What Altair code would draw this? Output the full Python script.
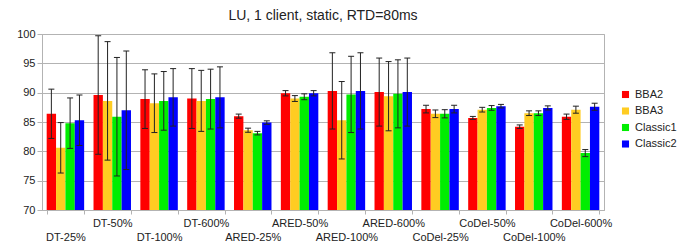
import altair as alt
import pandas as pd

categories = ["DT-25%", "DT-50%", "DT-100%", "DT-600%",
              "ARED-25%", "ARED-50%", "ARED-100%", "ARED-600%",
              "CoDel-25%", "CoDel-50%", "CoDel-100%", "CoDel-600%"]
series = ["BBA2", "BBA3", "Classic1", "Classic2"]
colors = ["#ff0000", "#ffcc22", "#00ee00", "#0000ff"]

# mean values per series (one per category)
bba2 = [86.4, 89.6, 88.9, 89.0, 86.0, 89.9, 90.3, 90.1, 87.2, 85.7, 84.2, 85.9]
bba3 = [80.6, 88.6, 88.2, 88.6, 83.6, 89.0, 85.3, 89.4, 86.4, 87.1, 86.5, 87.1]
classic1 = [84.8, 85.9, 88.6, 88.9, 83.1, 89.3, 89.7, 89.8, 86.4, 87.4, 86.5, 79.7]
classic2 = [85.3, 87.0, 89.2, 89.2, 84.9, 89.9, 90.3, 90.1, 87.2, 87.7, 87.4, 87.6]

# error half-widths
err_bba2 = [4.2, 10.1, 5.0, 5.1, 0.35, 0.45, 6.5, 5.8, 0.65, 0.25, 0.3, 0.45]
err_bba3 = [4.3, 10.1, 5.0, 5.2, 0.35, 0.5, 6.6, 5.9, 0.65, 0.4, 0.4, 0.6]
err_classic1 = [4.3, 10.1, 5.0, 5.1, 0.3, 0.5, 6.5, 5.8, 0.7, 0.4, 0.4, 0.6]
err_classic2 = [4.3, 10.1, 4.9, 5.2, 0.3, 0.45, 6.5, 5.8, 0.65, 0.3, 0.35, 0.6]

y_ticks = [70, 75, 80, 85, 90, 95, 100]

means = [bba2, bba3, classic1, classic2]
errs = [err_bba2, err_bba3, err_classic1, err_classic2]

rows = []
for s, m, e in zip(series, means, errs):
    for c, v, d in zip(categories, m, e):
        rows.append({"category": c, "series": s, "value": v,
                     "lo": v - d, "hi": v + d})
df = pd.DataFrame(rows)

upper = [c for i, c in enumerate(categories) if i % 2 == 1]
upper_js = "[" + ",".join("'" + c + "'" for c in upper) + "]"

font = "Liberation Sans"
grid = "#b3b3b3"

x_axis = alt.Axis(tickBand="extent", labelAngle=0, grid=False,
                  domainColor=grid, tickColor=grid, tickSize=4,
                  labelFont=font, labelFontSize=11, labelColor="#222",
                  labelBaseline="top", labelAlign="center",
                  labelPadding={"condition": {"test": "indexof(" + upper_js + ", datum.value) >= 0",
                                              "value": 3},
                                "value": 17},
                  labelOverlap=False, labelBound=False)
x_scale = alt.Scale(paddingInner=0.2, paddingOuter=0.1)
x = alt.X("category:N", sort=categories, title=None, scale=x_scale, axis=x_axis)
xo = alt.XOffset("series:N", sort=series, scale=alt.Scale(paddingInner=0))

y_scale = alt.Scale(domain=[70, 100], nice=False, zero=False)
y_axis = alt.Axis(values=y_ticks, gridColor=grid,
                  domainColor=grid, tickColor=grid, tickSize=5,
                  labelFont=font, labelFontSize=11, labelColor="#222",
                  labelPadding=2, labelOverlap=False)


def yenc(field):
    return alt.Y(field + ":Q", title=None, scale=y_scale, axis=y_axis)


base = alt.Chart(df)

bars = base.mark_bar(clip=True).encode(
    x=x, xOffset=xo, y=yenc("value"),
    color=alt.Color("series:N", sort=series,
                    scale=alt.Scale(domain=series, range=colors),
                    legend=alt.Legend(title=None, orient="none", legendX=578, legendY=55,
                                      symbolType="square", symbolSize=50,
                                      symbolStrokeWidth=0,
                                      labelFont=font, labelFontSize=11,
                                      labelColor="#222", rowPadding=4.5))
)

rules = base.mark_rule(color="#222", strokeWidth=1).encode(
    x=x, xOffset=xo, y=yenc("lo"), y2="hi:Q"
)

cap_shape = "M-1,0L1,0"
caps_lo = base.mark_point(shape=cap_shape, size=36, filled=False,
                          color="#222", strokeWidth=1, opacity=1).encode(
    x=x, xOffset=xo, y=yenc("lo")
)
caps_hi = base.mark_point(shape=cap_shape, size=36, filled=False,
                          color="#222", strokeWidth=1, opacity=1).encode(
    x=x, xOffset=xo, y=yenc("hi")
)

chart = alt.layer(bars, rules, caps_lo, caps_hi).properties(
    width=562, height=176,
    title=alt.TitleParams("LU, 1 client, static, RTD=80ms", font=font,
                          fontSize=14, fontWeight="normal", color="#222",
                          offset=5),
    padding={"left": 8, "top": 1, "right": 0, "bottom": 0}
).configure_view(stroke=grid)

chart.save("out.html", embed_options={"renderer": "svg", "actions": False})
